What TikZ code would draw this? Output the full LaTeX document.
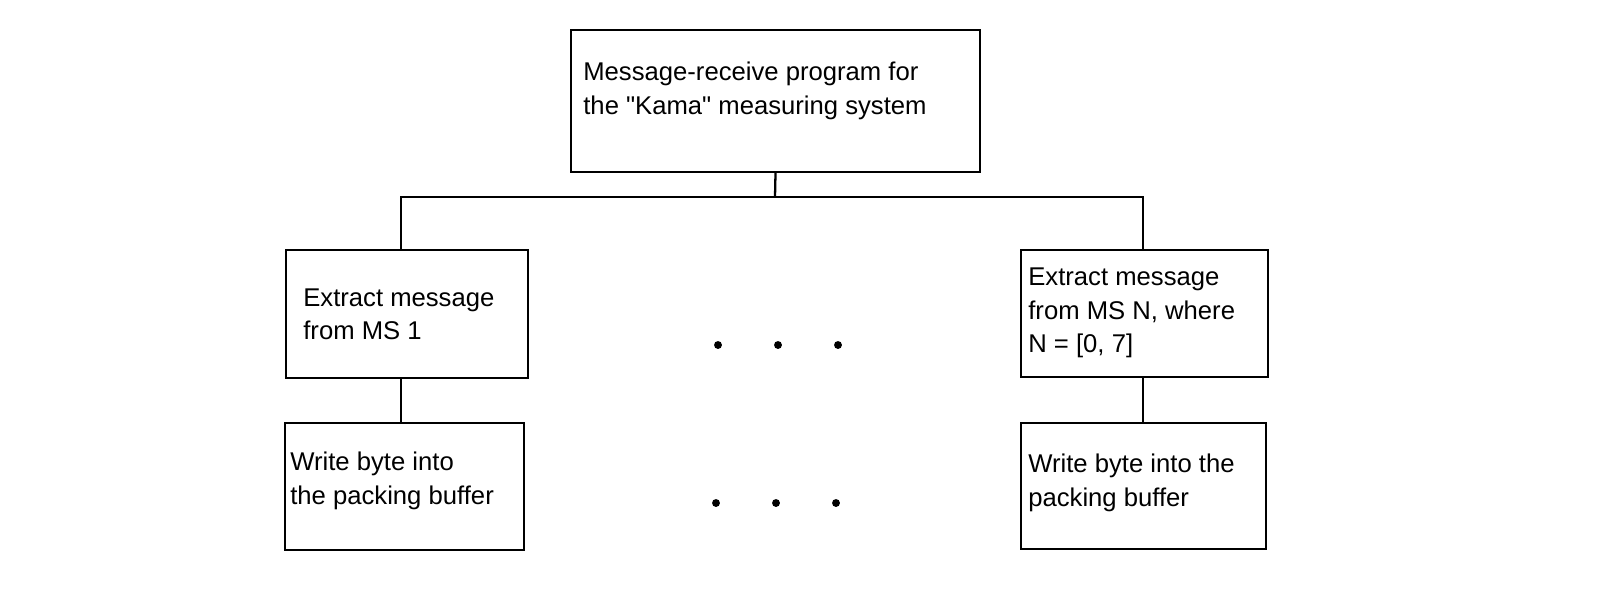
\documentclass[tikz,border=0pt]{standalone}
\usepackage{fontspec}
\setmainfont{Liberation Sans}
\newfontfamily\qfont{Liberation Sans}
\begin{document}
\begin{tikzpicture}[x=0.02cm,y=-0.02cm,
  box/.style={draw,line width=1.3pt,inner sep=0pt},
  txt/.style={anchor=west,align=left,inner sep=0pt,font=\fontsize{14.6pt}{19pt}\selectfont},
  ln/.style={line width=1.3pt},
  dot/.style={circle,fill,inner sep=0pt,minimum size=4.5pt}]
\useasboundingbox (0,0) rectangle (1602,610);
\node[box,minimum width=409*0.02cm,minimum height=142*0.02cm] (top) at (775.5,101) {};
\node[txt] (ttop) at (583,91) {Message-receive program for\\the {\qfont "}Kama{\qfont "} measuring system};
\node[box,minimum width=242*0.02cm,minimum height=128*0.02cm] (l1) at (407,314) {};
\node[txt] (tl1) at (303,314) {Extract message\\from MS 1};
\node[box,minimum width=247*0.02cm,minimum height=127*0.02cm] (r1) at (1144.5,313.5) {};
\node[txt] (tr1) at (1028,313) {Extract message\\from MS N, where\\N = [0, 7]};
\node[box,minimum width=239*0.02cm,minimum height=127*0.02cm] (l2) at (404.5,486.5) {};
\node[txt] (tl2) at (290,481) {Write byte into\\the packing buffer};
\node[box,minimum width=245*0.02cm,minimum height=126*0.02cm] (r2) at (1143.5,486) {};
\node[txt] (tr2) at (1028,483) {Write byte into the\\packing buffer};
\coordinate (hl) at (401,197);
\coordinate (hr) at (1143,197);
\coordinate (hm) at (775,197);
\draw[ln] (top.south) -- (hm);
\draw[ln] (hl|-l1.north) -- (hl) -- (hr) -- (hr|-r1.north);
\draw[ln] (l1.south -| hl) -- (l2.north -| hl);
\draw[ln] (r1.south -| hr) -- (r2.north -| hr);
\node[dot] (d1) at (718,345) {};
\node[dot] (d2) at (778,345) {};
\node[dot] (d3) at (838,345) {};
\node[dot] (d4) at (716,503) {};
\node[dot] (d5) at (776,503) {};
\node[dot] (d6) at (836,503) {};
\end{tikzpicture}
\end{document}
